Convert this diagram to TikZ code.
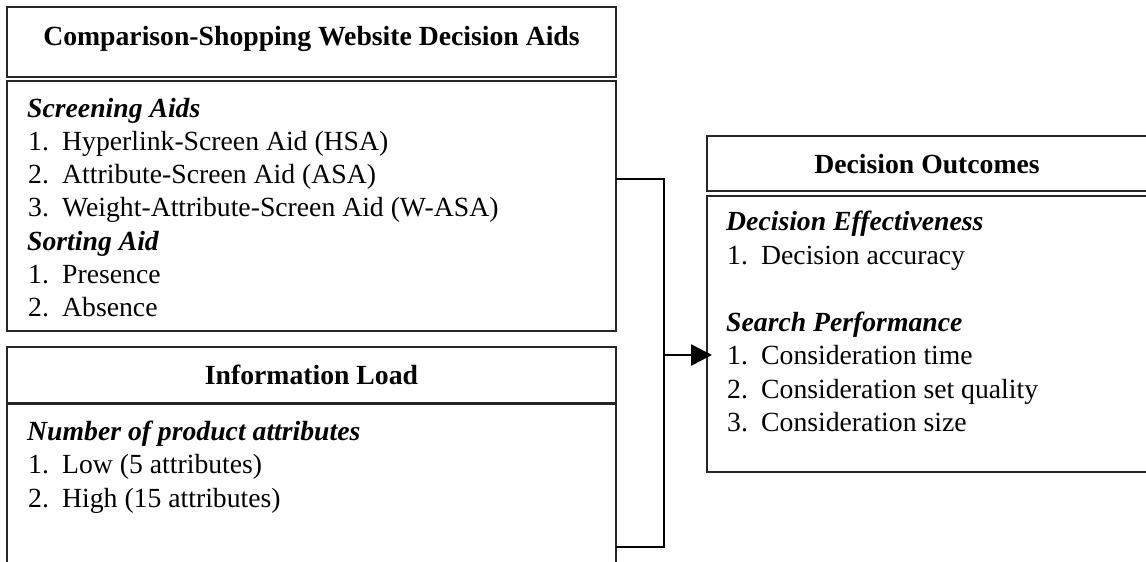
\documentclass[tikz,border=0pt]{standalone}
\usepackage{fontspec}
\setmainfont{Liberation Serif}
\usetikzlibrary{arrows.meta}
\newcommand{\numitem}[2]{\makebox[34pt][l]{#1}#2}
\newcommand{\fsz}{\fontsize{27.7pt}{33pt}\selectfont}
\begin{document}
\begin{tikzpicture}[x=1pt,y=-1pt,
  box/.style={draw=black!85, line width=1.6pt, rectangle, anchor=north west, inner sep=0pt, outer sep=0pt},
  head/.style={anchor=base, inner sep=0pt, font=\fsz\bfseries},
  sub/.style={anchor=base west, inner sep=0pt, font=\fsz\bfseries\itshape},
  item/.style={anchor=base west, inner sep=0pt, font=\fsz},
  conn/.style={draw=black, line width=2.6pt},
  arr/.style={conn, -{Triangle[length=21pt,width=21pt]}}]
\useasboundingbox (0,0) rectangle (1146,562);
\clip (0,0) rectangle (1146,562);
% left upper
\node[box, minimum width=609pt, minimum height=70pt] (h1) at (7,7) {};
\node[box, minimum width=609pt, minimum height=250pt] (b1) at (7,81) {};
\node[head] (h1t) at (311.5,45) {Comparison-Shopping Website Decision Aids};
\node[sub] (s1) at (27,117) {Screening Aids};
\node[item] (i11) at (28,150.3) {\numitem{1.}{Hyperlink-Screen Aid (HSA)}};
\node[item] (i12) at (28,183.6) {\numitem{2.}{Attribute-Screen Aid (ASA)}};
\node[item] (i13) at (28,216.9) {\numitem{3.}{Weight-Attribute-Screen Aid (W-ASA)}};
\node[sub] (s2) at (27,250.2) {Sorting Aid};
\node[item] (i21) at (28,283.5) {\numitem{1.}{Presence}};
\node[item] (i22) at (28,316.8) {\numitem{2.}{Absence}};
% left lower
\node[box, minimum width=609pt, minimum height=56pt] (h2) at (7,347) {};
\node[box, minimum width=609pt, minimum height=200pt] (b2) at (7,404) {};
\node[head] (h2t) at (311.5,384) {Information Load};
\node[sub] (s3) at (27,440) {Number of product attributes};
\node[item] (i31) at (28,473.5) {\numitem{1.}{Low (5 attributes)}};
\node[item] (i32) at (28,507) {\numitem{2.}{High (15 attributes)}};
% right
\node[box, minimum width=440pt, minimum height=55pt] (h3) at (707,136) {};
\node[box, minimum width=440pt, minimum height=276pt] (b3) at (707,196) {};
\node[head] (h3t) at (927,173) {Decision Outcomes};
\node[sub] (s4) at (726,230) {Decision Effectiveness};
\node[item] (i41) at (727,264) {\numitem{1.}{Decision accuracy}};
\node[sub] (s5) at (726,331) {Search Performance};
\node[item] (i51) at (727,364) {\numitem{1.}{Consideration time}};
\node[item] (i52) at (727,398) {\numitem{2.}{Consideration set quality}};
\node[item] (i53) at (727,431) {\numitem{3.}{Consideration size}};
% connectors
\coordinate (j1) at (664,179);
\coordinate (j2) at (664,547);
\coordinate (ja) at (664,355);
\draw[conn, line join=miter] (b1.east |- j1) -- (j1) -- (j2) -- (b2.east |- j2);
\draw[arr, shorten >=-5pt] (ja) -- (b3.west |- ja);
\end{tikzpicture}
\end{document}
